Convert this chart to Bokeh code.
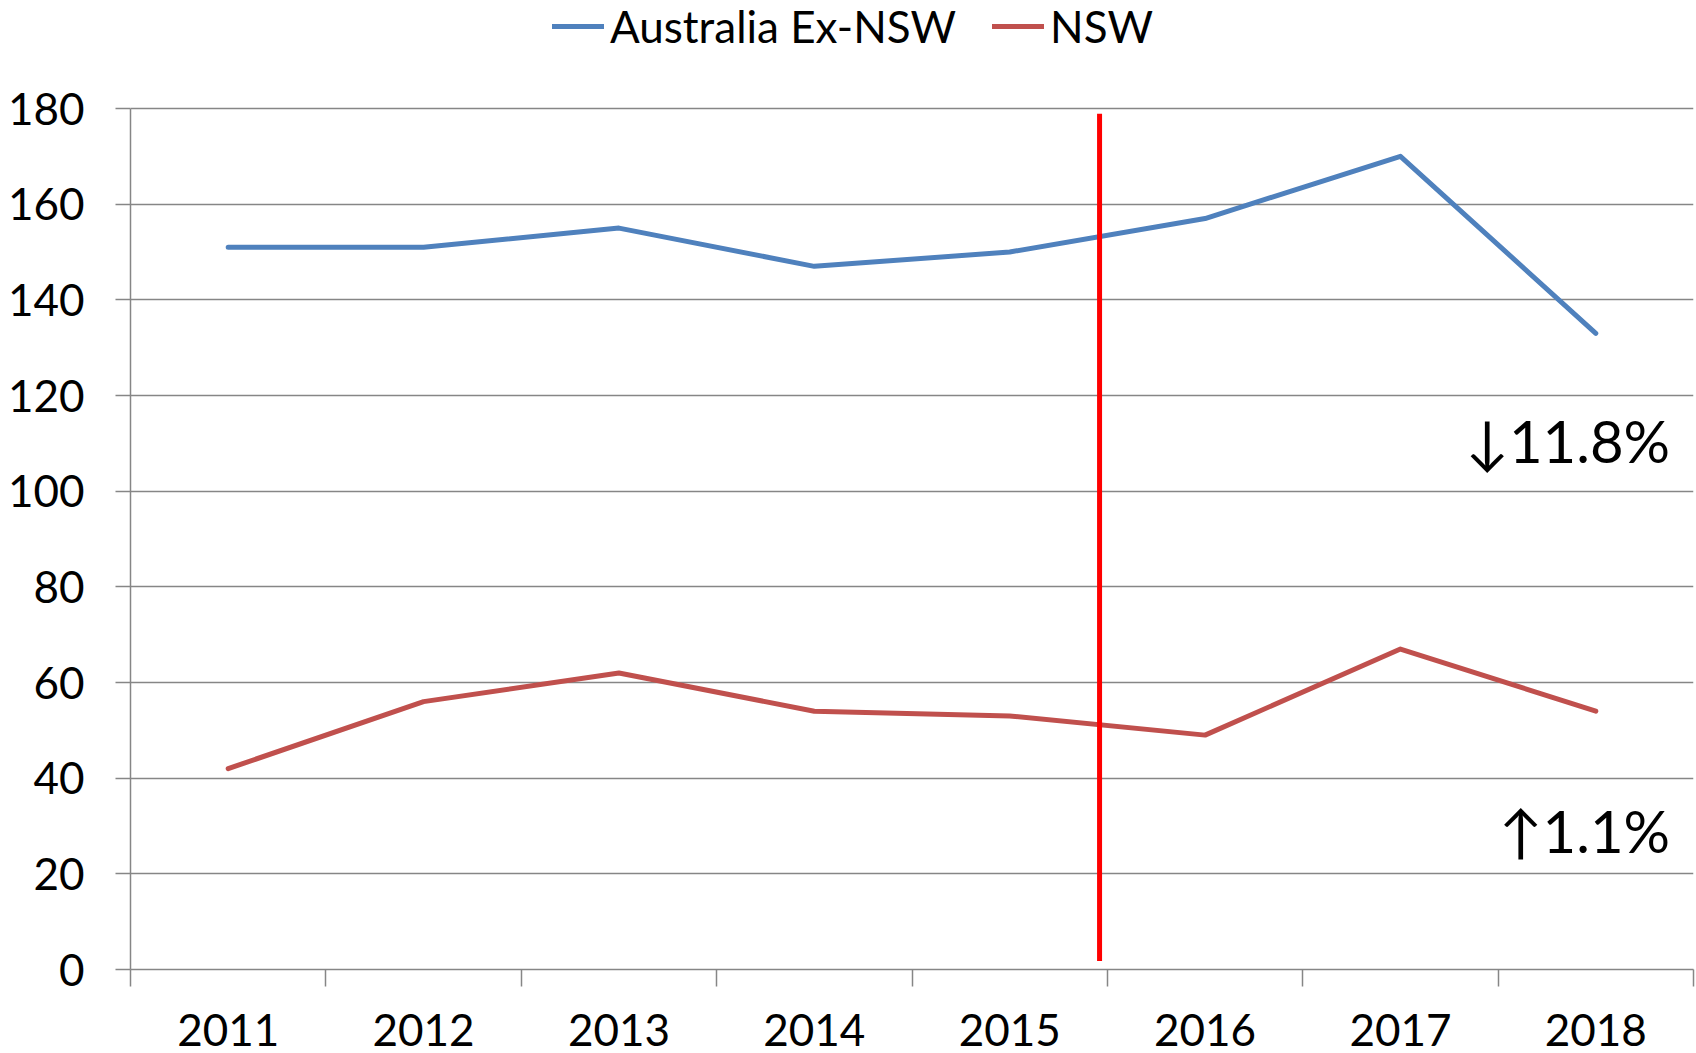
from bokeh.plotting import figure
from bokeh.models import FixedTicker, Legend, LegendItem, Range1d, ColumnDataSource
from bokeh.core.properties import value
from bokeh.embed import file_html
from bokeh.resources import INLINE

years = ["2011", "2012", "2013", "2014", "2015", "2016", "2017", "2018"]
australia_ex_nsw = [151, 151, 155, 147, 150, 157, 170, 133]
nsw = [42, 56, 62, 54, 53, 49, 67, 54]
y_ticks = [0, 20, 40, 60, 80, 100, 120, 140, 160, 180]
y_min, y_max = 0, 180

divider_x = 4.96
divider_y = [1.8, 178.9]

annotations_text = ["\u219311.8%", "\u21911.1%"]
annotations_x = [7.88, 7.88]
annotations_y = [110.5, 29.0]

FONT = "Lato"
BLUE = "#4F81BD"
RED = "#C0504D"
GRAY = "#868686"

W, H = 1696, 1053
FRAME_LEFT, FRAME_RIGHT_PAD, FRAME_TOP, FRAME_BOTTOM_PAD = 130, 3, 108, 84

centers = [i + 0.5 for i in range(len(years))]
bounds = list(range(len(years) + 1))

# extend the y range above 180 so that the legend area lies inside the frame
plot_h = H - FRAME_BOTTOM_PAD
px_per_unit = (plot_h - FRAME_TOP) / (y_max - y_min)
y_top = y_max + FRAME_TOP / px_per_unit

src = ColumnDataSource(dict(x=centers, a=australia_ex_nsw, n=nsw))

p = figure(width=W, height=H, output_backend="svg", toolbar_location=None,
           x_range=Range1d(0, len(years)), y_range=Range1d(y_min, y_top),
           min_border_left=FRAME_LEFT, min_border_right=FRAME_RIGHT_PAD,
           min_border_top=0, min_border_bottom=FRAME_BOTTOM_PAD)
p.title.visible = False
p.outline_line_color = None
p.background_fill_color = "white"
p.border_fill_color = "white"

p.xgrid.visible = False
p.ygrid.grid_line_color = GRAY
p.ygrid.grid_line_width = 1.5
p.ygrid.ticker = FixedTicker(ticks=y_ticks)

p.yaxis.ticker = FixedTicker(ticks=y_ticks)
p.yaxis.bounds = (y_min, y_max)
p.yaxis.axis_line_color = GRAY
p.yaxis.axis_line_width = 1.5
p.yaxis.major_tick_line_color = GRAY
p.yaxis.major_tick_line_width = 1.5
p.yaxis.major_tick_out = 15
p.yaxis.major_tick_in = 0
p.yaxis.minor_tick_line_color = None
p.yaxis.major_label_standoff = 31
p.yaxis.major_label_text_font = FONT
p.yaxis.major_label_text_font_size = "44px"
p.yaxis.major_label_text_color = "black"

p.xaxis.ticker = FixedTicker(ticks=centers, minor_ticks=bounds)
p.xaxis.major_label_overrides = {c: y for c, y in zip(centers, years)}
p.xaxis.axis_line_color = GRAY
p.xaxis.axis_line_width = 1.5
p.xaxis.major_tick_line_color = None
p.xaxis.major_tick_out = 0
p.xaxis.major_tick_in = 0
p.xaxis.minor_tick_line_color = GRAY
p.xaxis.minor_tick_line_width = 1.5
p.xaxis.minor_tick_out = 17
p.xaxis.minor_tick_in = 0
p.xaxis.major_label_standoff = 27
p.xaxis.major_label_text_font = FONT
p.xaxis.major_label_text_font_size = "44px"
p.xaxis.major_label_text_color = "black"

r1 = p.line("x", "a", source=src, line_color=BLUE, line_width=5,
            line_cap="round", line_join="round")
r2 = p.line("x", "n", source=src, line_color=RED, line_width=5,
            line_cap="round", line_join="round")

p.segment(x0=[divider_x], y0=[divider_y[0]], x1=[divider_x], y1=[divider_y[1]],
          line_color="#FF0000", line_width=5)

p.text(x=annotations_x, y=annotations_y, text=annotations_text,
       text_font=value(FONT), text_font_size="58px", text_color="black",
       text_align="right", text_baseline="middle")

legend = Legend(items=[LegendItem(label="Australia Ex-NSW", renderers=[r1]),
                       LegendItem(label="NSW", renderers=[r2])],
                location=(422, plot_h - 52), orientation="horizontal")
legend.label_text_font = FONT
legend.label_text_font_size = "44px"
legend.label_text_color = "black"
legend.glyph_width = 52
legend.glyph_height = 40
legend.label_height = 40
legend.label_standoff = 6
legend.spacing = 36
legend.padding = 0
legend.margin = 0
legend.border_line_alpha = 0
legend.background_fill_alpha = 0
p.add_layout(legend, "center")

open("out.html", "w").write(file_html(p, INLINE))
